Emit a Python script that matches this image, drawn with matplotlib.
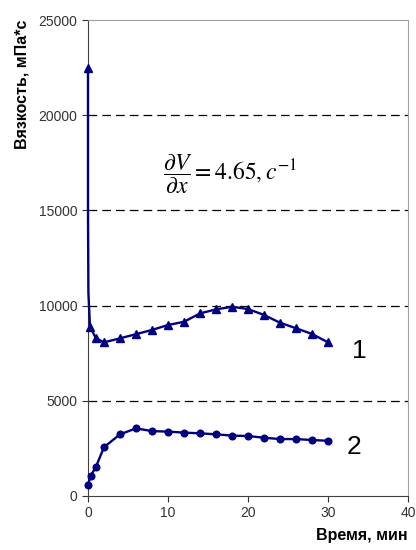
import matplotlib.pyplot as plt

# series 1 (triangles)
t1 = [0, 0, 0.05, 0.25, 1, 2, 4, 6, 8, 10, 12, 14, 16, 18, 20, 22, 24, 26, 28, 30]
v1 = [22500, 15000, 10700, 8890, 8280, 8070, 8280, 8500, 8720, 8980, 9150, 9590,
      9800, 9940, 9820, 9510, 9100, 8810, 8510, 8070]
mark1 = [0] + list(range(3, len(t1)))

# series 2 (circles)
t2 = [0, 0.33, 1, 2, 4, 6, 8, 10, 12, 14, 16, 18, 20, 22, 24, 26, 28, 30]
v2 = [580, 1050, 1540, 2560, 3240, 3550, 3410, 3380, 3330, 3290, 3240, 3170,
      3150, 3060, 2990, 2990, 2940, 2900]

xticks = [0, 10, 20, 30, 40]
yticks = [0, 5000, 10000, 15000, 20000, 25000]

plt.rcParams['mathtext.fontset'] = 'stix'
plt.rcParams['font.family'] = ['Liberation Sans', 'DejaVu Sans']

fig = plt.figure(figsize=(4.16, 5.5), dpi=100)
ax = fig.add_axes([0.2115, 0.0982, 0.7693, 0.8654])

for y in yticks[1:-1]:
    ax.axhline(y, color='black', ls=(0, (7, 4)), lw=0.9, zorder=1)

navy = '#000080'
ax.plot(t1, v1, color=navy, lw=1.7, marker='^', ms=6, markevery=mark1,
        zorder=3, clip_on=False)
ax.plot(t2, v2, color=navy, lw=1.7, marker='o', ms=4.8, zorder=3, clip_on=False)

ax.set_xlim(0, 40)
ax.set_ylim(0, 25000)
ax.set_xticks(xticks)
ax.set_yticks(yticks)
ax.tick_params(labelsize=10, colors='#333333', length=4, width=0.8)

for s in ['left', 'bottom']:
    ax.spines[s].set_color('#404040')
for s in ['top', 'right']:
    ax.spines[s].set_color('#a0a0a0')

ax.text(33, 7600, '1', fontsize=19, va='center', ha='left')
ax.text(32.3, 2550, '2', fontsize=19, va='center', ha='left')
ax.text(9.4, 16900, r'$\dfrac{\partial V}{\partial x} = 4.65, c^{-1}$',
        fontsize=17, va='center', ha='left')

fig.text(0.053, 0.9636, 'Вязкость, мПа*с', rotation=90, fontsize=11.5,
         fontweight='bold', ha='center', va='top')
fig.text(0.9808, 0.013, 'Время, мин', fontsize=11.5, fontweight='bold',
         ha='right', va='bottom')

fig.savefig('out.png', dpi=100)
